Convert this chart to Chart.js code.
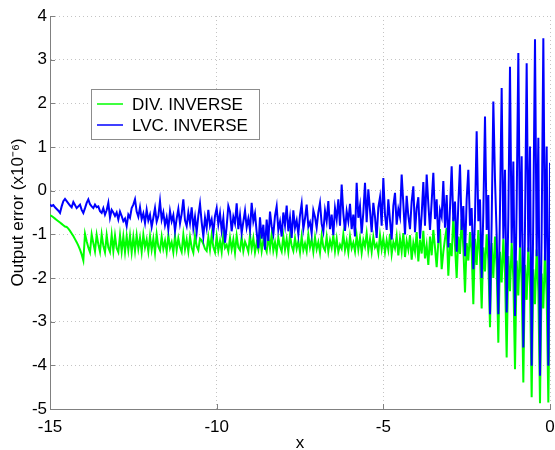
<!DOCTYPE html>
<html>
<head>
<meta charset="utf-8">
<script src="https://cdn.jsdelivr.net/npm/chart.js@4"></script>
<style>
  html, body { margin: 0; padding: 0; background: #fff; }
  canvas { display: block; }
</style>
</head>
<body>
<canvas id="err-chart" width="555" height="450"></canvas>
<script>
// Chart Variables
const seriesNames = ['DIV. INVERSE', 'LVC. INVERSE'];
const seriesColors = ['#00ff00', '#0000ff'];
const xStart = -15;
const xStep = 0.05;
const xTicks = [-15, -10, -5, 0];
const yTicks = [-5, -4, -3, -2, -1, 0, 1, 2, 3, 4];

// one value every 0.05 on x, 10 per row
const divInverse = [
  -0.56,-0.58,-0.61,-0.64,-0.67,-0.70,-0.73,-0.76,-0.79,-0.82,
  -0.83,-0.87,-0.92,-0.98,-1.04,-1.11,-1.18,-1.26,-1.35,-1.46,
  -1.60,-0.99,-1.16,-1.30,-1.41,-1.00,-1.20,-1.39,-1.01,-1.23,
  -1.40,-1.00,-1.26,-1.41,-1.02,-1.30,-1.40,-1.01,-1.38,-1.03,
  -1.32,-1.41,-1.02,-1.39,-1.05,-1.40,-1.04,-1.36,-1.03,-1.41,
  -1.06,-1.38,-1.02,-1.33,-1.08,-1.40,-1.01,-1.30,-1.12,-1.39,
  -1.04,-1.35,-1.10,-1.42,-1.00,-1.28,-1.37,-1.05,-1.33,-1.15,
  -1.40,-1.02,-1.31,-1.18,-1.41,-1.04,-1.36,-1.09,-1.29,-1.40,
  -1.01,-1.34,-1.12,-1.39,-1.06,-1.30,-1.42,-1.03,-1.27,-1.36,
  -1.10,-1.14,-1.22,-1.33,-1.38,-1.07,-1.35,-1.02,-1.29,-1.41,
  -1.05,-1.37,-1.15,-1.40,-1.00,-1.31,-1.24,-1.39,-1.08,-1.34,
  -1.12,-1.42,-1.03,-1.30,-1.36,-1.06,-1.38,-1.17,-1.27,-1.40,
  -1.02,-1.33,-1.09,-1.41,-1.20,-1.35,-1.04,-1.38,-1.13,-1.29,
  -1.40,-1.06,-1.32,-1.00,-1.37,-1.18,-1.42,-1.08,-1.28,-1.39,
  -1.04,-1.35,-1.11,-1.40,-1.02,-1.26,-1.38,-1.09,-1.33,-1.16,
  -1.41,-1.05,-1.36,-1.21,-1.39,-1.01,-1.30,-1.12,-1.40,-1.07,
  -1.34,-1.18,-1.42,-1.03,-1.29,-1.37,-1.06,-1.39,-1.14,-1.31,
  -1.02,-1.38,-1.10,-1.40,-1.24,-1.33,-1.00,-1.36,-1.15,-1.41,
  -1.05,-1.32,-1.19,-1.39,-1.03,-1.35,-1.08,-1.42,-1.13,-1.28,
  -0.98,-1.37,-1.11,-1.40,-1.06,-1.30,-1.22,-1.43,-1.02,-1.34,
  -1.09,-1.41,-1.14,-1.36,-0.99,-1.45,-1.18,-1.32,-1.04,-1.48,
  -1.10,-1.39,-0.97,-1.52,-1.15,-1.35,-1.02,-1.58,-1.20,-1.40,
  -0.95,-1.62,-1.12,-1.44,-0.92,-1.55,-1.25,-1.70,-1.05,-1.48,
  -0.90,-1.30,-1.75,-1.18,-0.88,-1.80,-1.40,-1.10,-0.85,-1.95,
  -1.20,-1.50,-0.60,-1.25,-2.00,-1.05,-1.45,-0.65,-1.30,-2.33,
  -1.20,-1.60,-0.95,-1.40,-2.60,-1.10,-1.70,-0.90,-1.50,-2.70,
  -1.30,-1.85,-1.00,-1.60,-3.13,-1.20,-2.00,-1.05,-1.75,-3.48,
  -1.40,-2.10,-1.10,-1.90,-3.82,-1.50,-2.30,-1.20,-2.00,-4.09,
  -1.60,-2.40,-1.25,-2.10,-4.39,-1.70,-2.50,-1.30,-2.20,-4.73,
  -1.80,-2.60,-1.35,-2.30,-4.87,-1.90,-2.70,-1.40,-2.40,-4.85,
  -2.03
];

const lvcInverse = [
  -0.32,-0.35,-0.33,-0.38,-0.42,-0.46,-0.51,-0.36,-0.24,-0.19,
  -0.24,-0.29,-0.34,-0.38,-0.26,-0.33,-0.40,-0.36,-0.32,-0.44,
  -0.51,-0.40,-0.28,-0.20,-0.31,-0.36,-0.40,-0.32,-0.38,-0.36,
  -0.47,-0.51,-0.40,-0.55,-0.45,-0.28,-0.62,-0.44,-0.50,-0.58,
  -0.50,-0.66,-0.48,-0.58,-0.70,-0.64,-0.81,-0.55,-0.62,-0.40,
  -0.32,-0.20,-0.48,-0.60,-0.38,-0.65,-0.52,-0.74,-0.44,-0.68,
  -0.55,-0.83,-0.62,-0.40,-0.71,-0.58,-0.24,-0.66,-0.50,-0.79,
  -0.61,-0.88,-0.47,-0.70,-0.56,-0.92,-0.64,-0.42,-0.75,-0.53,
  -0.20,-0.68,-0.81,-0.50,-0.74,-0.38,-0.86,-0.60,-0.95,-0.57,
  -0.30,-0.72,-1.05,-0.62,-0.85,-0.44,-0.80,-0.66,-0.98,-0.58,
  -0.40,-0.77,-0.52,-0.91,-0.63,-1.19,-0.82,-0.35,-0.48,-0.93,
  -0.60,-0.75,-0.29,-0.88,-0.56,-0.97,-0.71,-0.46,-0.84,-0.64,
  -0.90,-0.28,-0.70,-0.52,-0.95,-1.32,-0.61,-1.10,-0.78,-1.35,
  -0.66,-1.15,-0.48,-0.82,-1.00,-0.58,-0.36,-0.90,-0.71,-1.05,
  -0.50,-0.79,-0.34,-0.93,-0.62,-1.08,-0.45,-0.85,-0.68,-1.00,
  -0.56,-0.30,-0.88,-0.64,-0.32,-0.82,-0.72,-0.98,-0.45,-0.60,
  -0.85,-0.50,-0.28,-0.76,-0.94,-0.46,-0.70,-0.24,-0.88,-0.55,
  -1.02,-0.40,-0.66,-0.20,-0.80, 0.14,-0.52,-0.92,-0.47,-0.70,
  -0.30,-0.88,-0.55,-1.05, 0.18,-0.62,-0.35,-0.98,-0.50, 0.18,
  -0.72, 0.03,-0.45,-0.95,-0.28,-0.60,-1.08,-0.38,-0.15,-0.80,
   0.29,-0.55,-0.90,-0.20,-0.68,-1.12,-0.35,-0.05,-0.78,-0.42,
  -0.60, 0.37,-0.30,-1.00,-0.12,-0.58,-0.88,-0.25, 0.10,-0.95,
  -0.40,-0.15,-1.10,-0.55, 0.20,-0.80, 0.37,-0.30,-0.90,-0.25,
   0.41,-0.65,-0.20,-1.20,-0.45,-0.60, 0.22,-0.85,-0.10,-1.30,
  -0.40, 0.56,-0.70,-0.25,-1.40,-0.30, 0.60,-0.90,-0.35,-1.50,
  -0.20, 0.48,-0.80,-0.40,-1.80,-0.60, 1.36,-0.70,-0.20,-2.00,
  -0.50, 1.70,-0.90,-0.10,-2.83,-0.70, 2.04, 0.25,-1.00,-2.83,
  -0.40, 2.35,-1.10, 0.48,-2.79,-0.60, 2.84,-1.20, 0.67,-2.87,
  -0.30, 3.15,-1.30, 0.79,-3.59,-0.80, 2.92,-1.40, 1.01,-4.01,
  -0.50, 3.47,-1.50, 1.21,-4.24,-0.90, 3.49,-1.60, 1.01,-4.01,
   0.64
];

const fontFamily = '"Liberation Sans", Arial, Helvetica, sans-serif';
Chart.defaults.font.family = fontFamily;

function toPoints(values) {
    return values.map((v, i) => ({x: xStart + i * xStep, y: v}));
}

// matlab style ticks pointing into the plot
const innerTicks = {
    id: 'innerTicks',
    afterDatasetsDraw(chart) {
        const {ctx, chartArea, scales} = chart;
        ctx.save();
        ctx.strokeStyle = '#808080';
        ctx.lineWidth = 1;
        ctx.beginPath();
        xTicks.forEach((v) => {
            const px = Math.round(scales.x.getPixelForValue(v)) + 0.5;
            ctx.moveTo(px, chartArea.bottom);
            ctx.lineTo(px, chartArea.bottom - 5);
        });
        yTicks.forEach((v) => {
            const py = Math.round(scales.y.getPixelForValue(v)) + 0.5;
            ctx.moveTo(chartArea.left, py);
            ctx.lineTo(chartArea.left + 5, py);
        });
        ctx.stroke();
        ctx.restore();
    }
};

// legend box sitting inside the axes
const boxLegend = {
    id: 'boxLegend',
    afterDraw(chart) {
        const ctx = chart.ctx;
        const bx = 91.5, by = 89.5, bw = 168, bh = 50;
        ctx.save();
        ctx.fillStyle = '#ffffff';
        ctx.fillRect(bx, by, bw, bh);
        ctx.strokeStyle = '#8c8c8c';
        ctx.lineWidth = 1;
        ctx.strokeRect(bx, by, bw, bh);
        ctx.font = '17px ' + fontFamily;
        ctx.textBaseline = 'middle';
        ctx.fillStyle = '#000';
        seriesNames.forEach((name, i) => {
            const ly = 104 + i * 21;
            ctx.strokeStyle = seriesColors[i];
            ctx.lineWidth = 1.5;
            ctx.beginPath();
            ctx.moveTo(97, ly);
            ctx.lineTo(123, ly);
            ctx.stroke();
            ctx.fillText(name, 132, ly + 1);
        });
        ctx.restore();
    }
};

new Chart(document.getElementById('err-chart'), {
    type: 'line',
    data: {
        datasets: [
            {
                label: seriesNames[0],
                data: toPoints(divInverse),
                borderColor: seriesColors[0],
                borderWidth: 2,
                pointRadius: 0,
                tension: 0,
                order: 2
            },
            {
                label: seriesNames[1],
                data: toPoints(lvcInverse),
                borderColor: seriesColors[1],
                borderWidth: 2,
                pointRadius: 0,
                tension: 0,
                order: 1
            }
        ]
    },
    options: {
        responsive: false,
        animation: false,
        layout: {padding: {top: 16, right: 5, left: 0, bottom: 0}},
        plugins: {
            legend: {display: false},
            tooltip: {enabled: false}
        },
        scales: {
            x: {
                type: 'linear',
                min: -15,
                max: 0,
                afterBuildTicks: (s) => { s.ticks = xTicks.map((v) => ({value: v})); },
                afterFit: (s) => {
                    s.height = 41;
                    s.paddingLeft = 0;
                    s.paddingRight = 0;
                },
                grid: {color: '#c4c4c4', drawTicks: false},
                border: {color: '#808080', width: 1, dash: [1, 3]},
                ticks: {color: '#000', font: {size: 17}, padding: 8, maxRotation: 0},
                title: {display: true, text: 'x', color: '#000', font: {size: 17, lineHeight: 0.8}, padding: 0}
            },
            y: {
                min: -5,
                max: 4,
                afterBuildTicks: (s) => { s.ticks = yTicks.map((v) => ({value: v})); },
                afterFit: (s) => {
                    s.width = 50;
                    s.paddingTop = 0;
                    s.paddingBottom = 0;
                },
                grid: {color: '#c4c4c4', drawTicks: false},
                border: {color: '#808080', width: 1, dash: [1, 3]},
                ticks: {color: '#000', font: {size: 17}, padding: 3},
                title: {display: true, text: 'Output error (x10⁻⁶)', color: '#000', font: {size: 17}, padding: {top: 8, bottom: 0}}
            }
        }
    },
    plugins: [innerTicks, boxLegend]
});
</script>
</body>
</html>
